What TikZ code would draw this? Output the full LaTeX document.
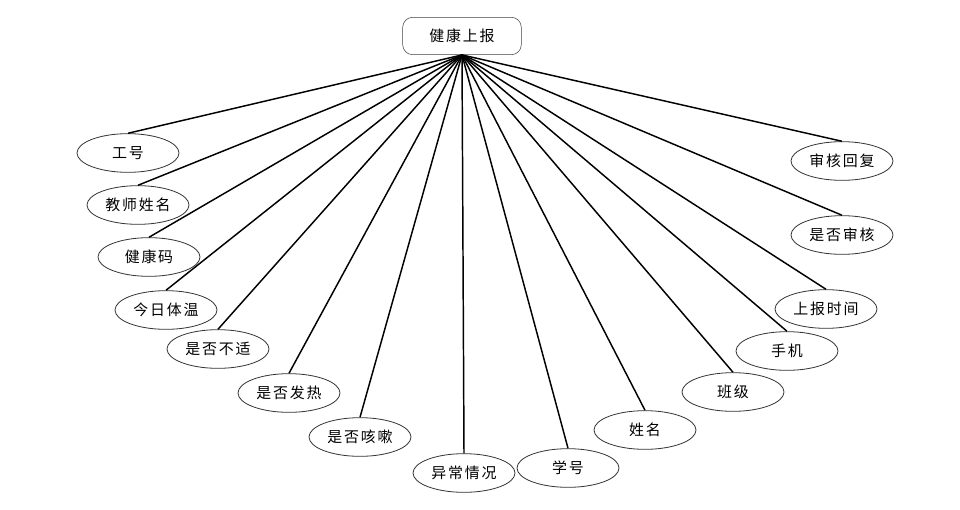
\documentclass[tikz,border=0pt]{standalone}
\usepackage{fontspec}
\newfontfamily\cjk[LetterSpace=12]{Noto Sans CJK SC}
\usetikzlibrary{shapes.geometric}

\tikzset{
  rootbox/.style={draw=black!75, rounded corners=7.5pt, fill=white,
    minimum width=89pt, minimum height=28pt, font=\cjk\fontsize{11.2}{13}\selectfont},
  attr/.style={ellipse, draw=black!80, line width=0.6pt, fill=white,
    minimum width=76.5pt, minimum height=29pt, inner sep=0pt,
    font=\cjk\fontsize{11.2}{13}\selectfont},
  link/.style={line width=1.1pt, black}
}

\begin{document}
\begin{tikzpicture}[x=0.75pt, y=-0.75pt]

% page frame, 960 x 510 px
\useasboundingbox (0,0) rectangle (960,510);

% entity on top
\node[rootbox] (report) at (462,36) {健康上报};

% attributes: name / x / y / text (px from the top left)
\foreach \nm/\px/\py/\txt in {
    gonghao/128/153/工号,
    jsxm/138/205/教师姓名,
    jkm/149/257/健康码,
    jrtw/166/310/今日体温,
    sfbs/218/349/是否不适,
    sffr/289/393/是否发热,
    sfks/360/437/是否咳嗽,
    ycqk/464/473/异常情况,
    xuehao/568/468/学号,
    xingming/645/430/姓名,
    banji/733/392/班级,
    shouji/787/351/手机,
    sbsj/826/309/上报时间,
    sfsh/842/235/是否审核,
    shhf/842/161/审核回复} {
  \node[attr] (\nm) at (\px,\py) {\txt};
  \draw[link] (report.south) -- (\nm.north);
}

\end{tikzpicture}
\end{document}
